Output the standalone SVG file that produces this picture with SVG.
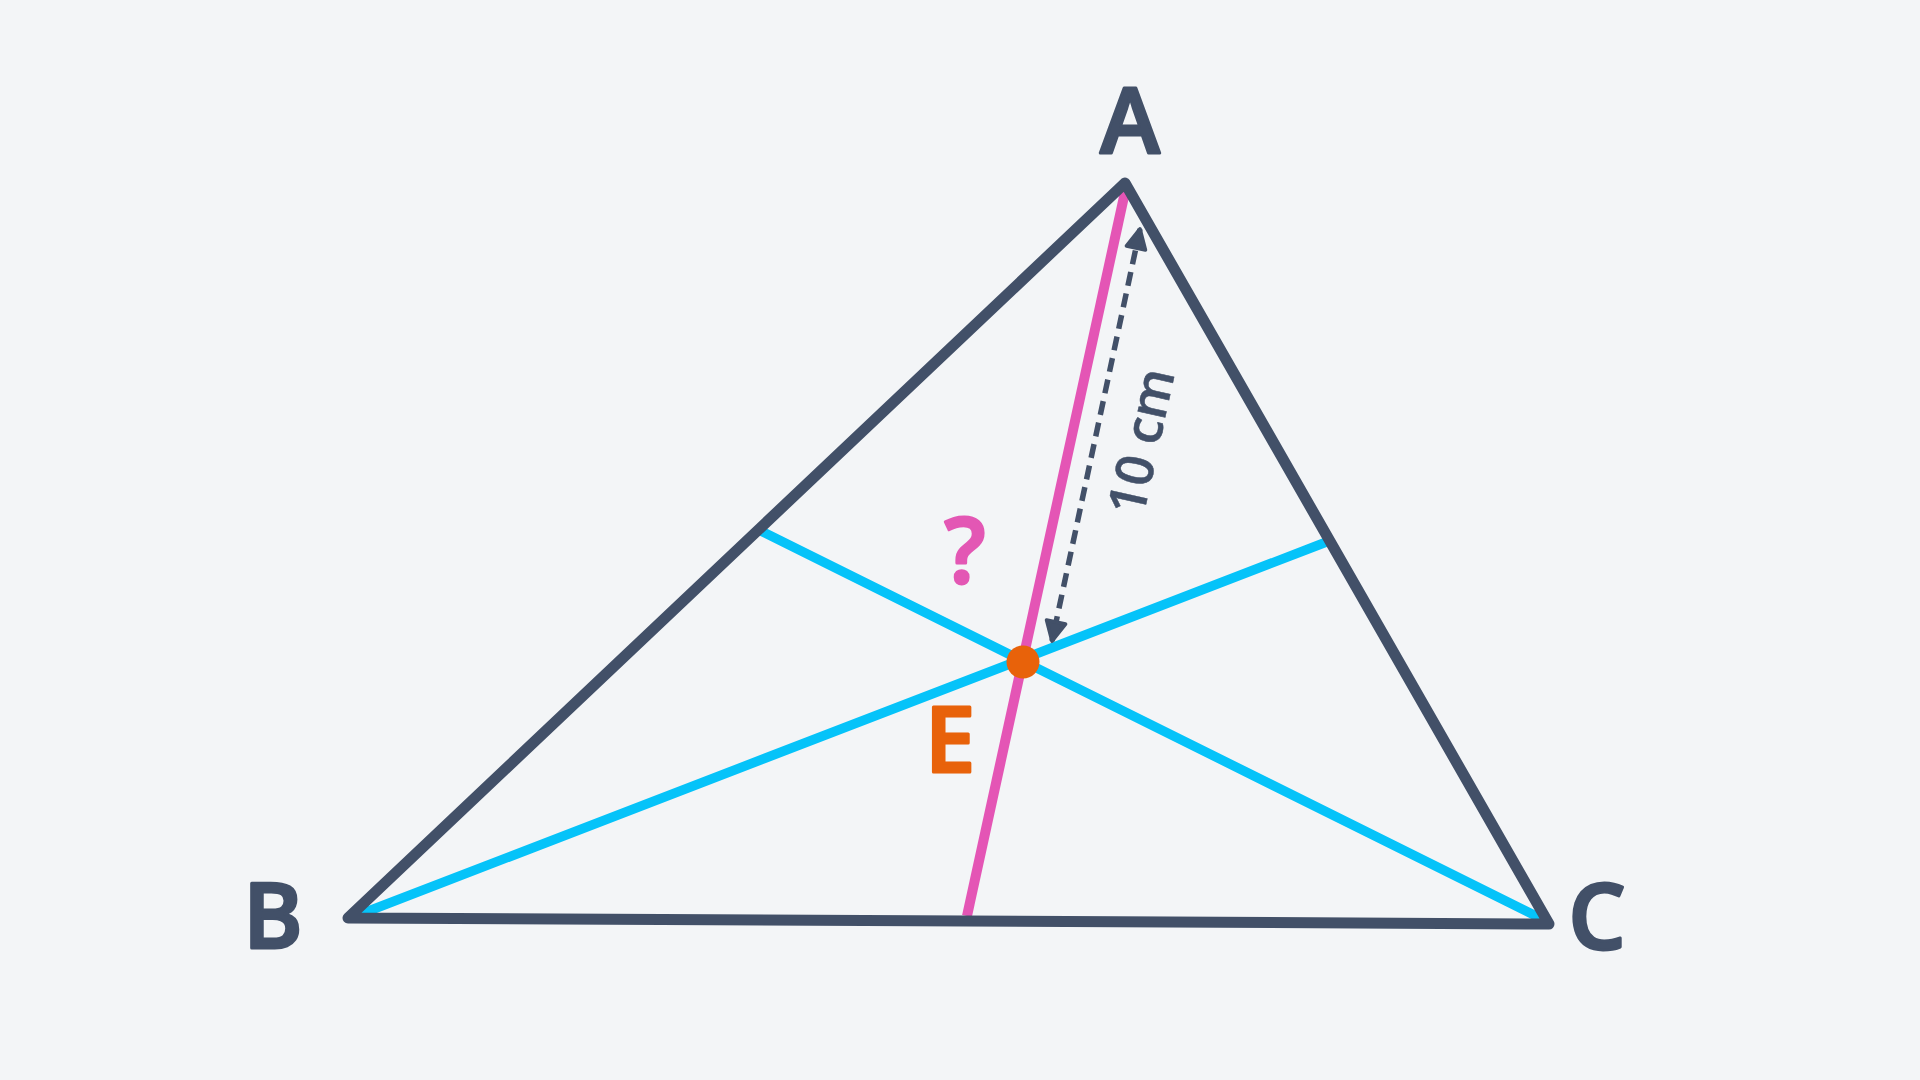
<svg xmlns="http://www.w3.org/2000/svg" width="1920" height="1080" viewBox="0 0 1920 1080">
<defs>
<style>
.lbl{font-family:"Open Sans","Noto Sans","Liberation Sans",sans-serif;font-weight:600;font-size:90px;text-anchor:middle;stroke-linejoin:round;stroke-width:3}
.dark{fill:#425068;stroke:#425068}
.cyan{stroke:#05c3f9;stroke-width:9.5;fill:none;stroke-linecap:round}
.pink{stroke:#e455b5;stroke-width:10;fill:none}
.dim{stroke:#425068;stroke-width:5.5;fill:none;stroke-dasharray:14 8}
</style>
<marker id="ah" viewBox="0 0 10 10" refX="9" refY="5" markerWidth="4.4" markerHeight="4.4" orient="auto-start-reverse" markerUnits="strokeWidth">
<path d="M1,1 L9,5 L1,9 Z" fill="#425068" stroke="#425068" stroke-width="1.5" stroke-linejoin="round"/>
</marker>
</defs>
<rect width="1920" height="1080" fill="#f3f5f7"/>
<g id="connectors">
<line class="cyan" x1="366" y1="912" x2="1329" y2="541"/>
<line class="cyan" x1="1538" y1="917" x2="761" y2="531"/>
<line class="pink" x1="1125" y1="192" x2="967" y2="916"/>
<line class="dim" x1="1140" y1="229" x2="1052" y2="641" marker-start="url(#ah)" marker-end="url(#ah)"/>
</g>
<g id="triangle">
<polygon points="1125,183 348,918 1549,924" fill="none" stroke="#425068" stroke-width="11" stroke-linejoin="round"/>
</g>
<g id="node-A"><text class="lbl dark" x="1130" y="153">A</text></g>
<g id="node-B"><text class="lbl dark" x="273" y="948">B</text></g>
<g id="node-C"><text class="lbl dark" x="1597" y="949">C</text></g>
<g id="label-dim"><text class="dark" x="1139" y="441" transform="rotate(-77.5 1139 441)" font-family="Open Sans, Noto Sans, Liberation Sans, sans-serif" font-weight="600" font-size="52" text-anchor="middle" dominant-baseline="central" stroke-width="0.5">10 cm</text></g>
<g id="label-q"><text class="lbl" x="965" y="583" font-size="96" fill="#e357b4" stroke="#e357b4">?</text></g>
<g id="node-E">
<circle cx="1023" cy="662" r="16.5" fill="#e8620a"/>
<text class="lbl" x="950" y="772" fill="#e8620a" stroke="#e8620a">E</text>
</g>
</svg>
